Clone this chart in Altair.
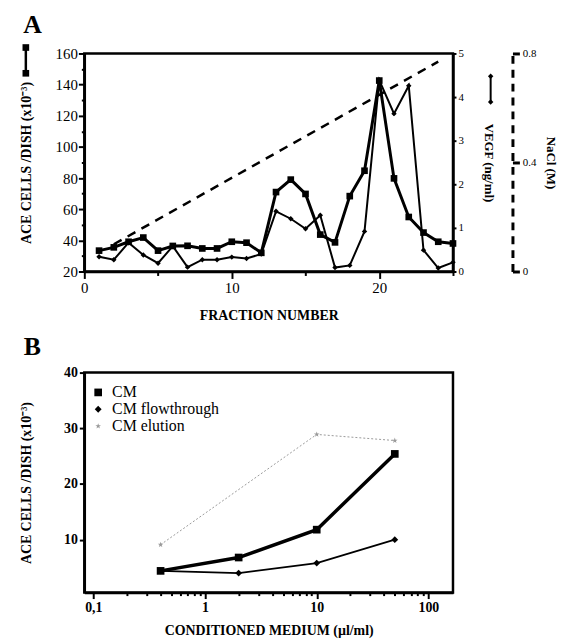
import altair as alt
import pandas as pd

# ---------------- Panel A data ----------------
fractions = list(range(1, 26))
ace_cells = [33.4, 35.5, 39.1, 41.8, 33.4, 36.4, 36.5, 34.8, 34.8, 39.1, 38.5, 32.0,
             71.0, 79.0, 69.8, 43.7, 38.7, 68.4, 84.7, 142.6, 79.8, 55.0, 45.0, 39.1, 38.0]
vegf = [0.34, 0.27, 0.66, 0.38, 0.19, 0.58, 0.10, 0.27, 0.27, 0.33, 0.30, 0.40,
        1.38, 1.21, 0.98, 1.29, 0.09, 0.14, 0.92, 4.39, 3.62, 4.26, 0.49, 0.08, 0.21]
nacl_fraction = [2, 24]
nacl_molar = [0.10, 0.77]

# ---------------- Panel B data ----------------
cm_dose = [0.4, 2, 10, 50]
cm_cells = [4.4, 6.8, 11.8, 25.4]
flow_dose = [0.4, 2, 10, 50]
flow_cells = [4.4, 4.0, 5.8, 10.0]
elution_dose = [0.4, 10, 50]
elution_cells = [9.1, 28.9, 27.8]
series_names = ["CM", "CM flowthrough", "CM elution"]

x_ticks_b = [0.1, 0.2, 0.3, 0.4, 0.5, 0.6, 0.7, 0.8, 0.9,
             1, 2, 3, 4, 5, 6, 7, 8, 9,
             10, 20, 30, 40, 50, 60, 70, 80, 90, 100]

SERIF = "Liberation Serif"
STAR = "M0,-1L0.24,-0.31L0.95,-0.31L0.38,0.12L0.59,0.81L0,0.4L-0.59,0.81L-0.38,0.12L-0.95,-0.31L-0.24,-0.31Z"

dfA = pd.DataFrame({"fraction": fractions, "ace": ace_cells, "vegf": vegf})
dfN = pd.DataFrame({"fraction": nacl_fraction, "nacl": nacl_molar})

x_a = alt.X(
    "fraction:Q",
    scale=alt.Scale(domain=[0, 25], nice=False),
    axis=alt.Axis(
        values=[0, 5, 10, 15, 20, 25],
        labelExpr="datum.value % 10 === 0 ? datum.label : ''",
        tickSize={"condition": {"test": "datum.value % 10 === 0", "value": 7}, "value": 4},
        title="FRACTION NUMBER",
        titleFontWeight="bold", titleFontSize=14, titlePadding=13,
        labelFontSize=15, labelFontWeight="normal", labelOverlap=False, labelFlush=False,
        domainWidth=2.5, tickWidth=2,
    ),
)

y_ace = alt.Y(
    "ace:Q",
    scale=alt.Scale(domain=[20, 160], nice=False, zero=False),
    axis=alt.Axis(
        orient="left",
        values=list(range(20, 161, 10)),
        labelExpr="datum.value % 20 === 0 ? datum.label : ''",
        tickSize={"condition": {"test": "datum.value % 20 === 0", "value": 6}, "value": 3},
        title="ACE CELLS /DISH (x10⁻³)",
        titleFontWeight="bold", titleFontSize=14, titlePadding=22,
        labelFontSize=15, labelOverlap=False, labelFlush=False, labelPadding=1,
        domainWidth=2.5, tickWidth=2,
    ),
)

y_vegf = alt.Y(
    "vegf:Q",
    scale=alt.Scale(domain=[0, 5], nice=False),
    axis=alt.Axis(
        orient="right",
        values=[0, 1, 2, 3, 4, 5],
        tickSize=3,
        title="VEGF (ng/ml)",
        titleFontWeight="bold", titleFontSize=13, titlePadding=18,
        labelFontSize=11, labelOverlap=False, labelFlush=False,
        domainWidth=2.5, tickWidth=2,
    ),
)

y_nacl = alt.Y(
    "nacl:Q",
    scale=alt.Scale(domain=[0, 0.8], nice=False),
    axis=alt.Axis(
        orient="right",
        offset=60,
        values=[0, 0.4, 0.8],
        format="~g",
        tickSize=7, tickWidth=3,
        domainDash=[8, 6], domainWidth=3,
        title="NaCl (M)",
        titleFontWeight="bold", titleFontSize=13, titlePadding=8,
        labelFontSize=11, labelOverlap=False, labelFlush=False, labelPadding=3,
    ),
)

ace_line = alt.Chart(dfA).mark_line(color="black", strokeWidth=3).encode(x=x_a, y=y_ace)
ace_pts = alt.Chart(dfA).mark_point(shape="square", filled=True, color="black", size=45, opacity=1).encode(x=x_a, y=y_ace)
ace_layer = alt.layer(ace_line, ace_pts)

vegf_line = alt.Chart(dfA).mark_line(color="black", strokeWidth=2).encode(x=x_a, y=y_vegf)
vegf_pts = alt.Chart(dfA).mark_point(shape="diamond", filled=True, color="black", size=30, opacity=1).encode(x=x_a, y=y_vegf)
vegf_layer = alt.layer(vegf_line, vegf_pts)

nacl_layer = alt.Chart(dfN).mark_line(color="black", strokeWidth=2.5, strokeDash=[9, 7]).encode(x=x_a, y=y_nacl)

one = pd.DataFrame({"k": [0]})
# small key glyphs drawn beside the axis titles
glyph_sq_rule = alt.Chart(one).mark_rule(color="black", strokeWidth=2.5).encode(
    x=alt.value(-59), y=alt.value(-6), y2=alt.value(20))
glyph_sq_a = alt.Chart(one).mark_point(shape="square", filled=True, color="black", size=45, opacity=1).encode(
    x=alt.value(-59), y=alt.value(-6))
glyph_sq_b = alt.Chart(one).mark_point(shape="square", filled=True, color="black", size=45, opacity=1).encode(
    x=alt.value(-59), y=alt.value(20))
glyph_di_rule = alt.Chart(one).mark_rule(color="black", strokeWidth=2).encode(
    x=alt.value(410), y=alt.value(23), y2=alt.value(49))
glyph_di_a = alt.Chart(one).mark_point(shape="diamond", filled=True, color="black", size=30, opacity=1).encode(
    x=alt.value(410), y=alt.value(23))
glyph_di_b = alt.Chart(one).mark_point(shape="diamond", filled=True, color="black", size=30, opacity=1).encode(
    x=alt.value(410), y=alt.value(49))

panel_a = alt.layer(
    ace_layer, vegf_layer, nacl_layer,
    glyph_sq_rule, glyph_sq_a, glyph_sq_b, glyph_di_rule, glyph_di_a, glyph_di_b,
).resolve_scale(y="independent").properties(
    width=372, height=220,
    title=alt.TitleParams("A", anchor="start", frame="bounds", fontSize=26, font=SERIF,
                          fontWeight="bold", dx=4, offset=6),
)

# ---------------- Panel B ----------------
dfB = pd.DataFrame({
    "dose": cm_dose + flow_dose + elution_dose,
    "cells": cm_cells + flow_cells + elution_cells,
    "series": [series_names[0]] * len(cm_dose) + [series_names[1]] * len(flow_dose)
              + [series_names[2]] * len(elution_dose),
})

x_b = alt.X(
    "dose:Q",
    scale=alt.Scale(type="log", domain=[0.083, 166], nice=False),
    axis=alt.Axis(
        values=x_ticks_b,
        labelExpr="datum.value === 0.1 ? '0,1' : (datum.value === 1 || datum.value === 10 || datum.value === 100) ? datum.label : ''",
        tickSize={"condition": {"test": "datum.value === 0.1 || datum.value === 1 || datum.value === 10 || datum.value === 100", "value": 6}, "value": 3},
        title="CONDITIONED MEDIUM (µl/ml)",
        titleFontWeight="bold", titleFontSize=14, titlePadding=9,
        labelFontSize=14, labelFontWeight="bold", labelOverlap=False, labelFlush=False,
        domainWidth=2.5, tickWidth=2,
    ),
)
y_b = alt.Y(
    "cells:Q",
    scale=alt.Scale(domain=[0.5, 40], nice=False, zero=False),
    axis=alt.Axis(
        values=[10, 20, 30, 40],
        tickSize=5,
        title="ACE CELLS /DISH (x10⁻³)",
        titleFontWeight="bold", titleFontSize=14, titlePadding=30,
        labelFontSize=14, labelFontWeight="bold", labelOverlap=False, labelFlush=False,
        domainWidth=2.5, tickWidth=2,
    ),
)

baseB = alt.Chart(dfB)
line_cm = baseB.transform_filter(alt.datum.series == series_names[0]).mark_line(
    color="black", strokeWidth=3.5).encode(x=x_b, y=y_b)
line_flow = baseB.transform_filter(alt.datum.series == series_names[1]).mark_line(
    color="black", strokeWidth=1.8).encode(x=x_b, y=y_b)
line_el = baseB.transform_filter(alt.datum.series == series_names[2]).mark_line(
    color="#9a9a9a", strokeWidth=1, strokeDash=[2, 2]).encode(x=x_b, y=y_b)
pts_b = baseB.mark_point(filled=True, opacity=1).encode(
    x=x_b, y=y_b,
    shape=alt.Shape("series:N", scale=alt.Scale(domain=series_names, range=["square", "diamond", STAR]),
                    legend=alt.Legend(title=None, orient="none", legendX=6, legendY=12,
                                      labelFont=SERIF, labelFontSize=16, labelColor="black",
                                      rowPadding=1, symbolStrokeWidth=0, labelOffset=6)),
    color=alt.Color("series:N", scale=alt.Scale(domain=series_names, range=["black", "black", "#9a9a9a"])),
    size=alt.Size("series:N", scale=alt.Scale(domain=series_names, range=[60, 35, 25])),
)

panel_b = alt.layer(line_cm, line_flow, line_el, pts_b).properties(
    width=372, height=222,
    title=alt.TitleParams("B", anchor="start", frame="bounds", fontSize=26, font=SERIF,
                          fontWeight="bold", dx=4, offset=6),
)

chart = alt.vconcat(panel_a, panel_b, spacing=8).resolve_scale(
    color="independent", shape="independent", size="independent"
).resolve_legend(
    color="independent", shape="independent", size="independent"
).properties(
    padding={"left": 10, "top": 0, "right": 5, "bottom": 4},
    background="white",
).configure_view(
    stroke="black", strokeWidth=2.5,
).configure_axis(
    labelFont=SERIF, titleFont=SERIF, labelColor="black", titleColor="black",
    domainColor="black", tickColor="black", grid=False,
).configure_legend(
    labelFont=SERIF, labelFontSize=16, labelColor="black",
).configure_title(color="black")

chart.save("out.html", embed_options={"renderer": "svg", "actions": False})
